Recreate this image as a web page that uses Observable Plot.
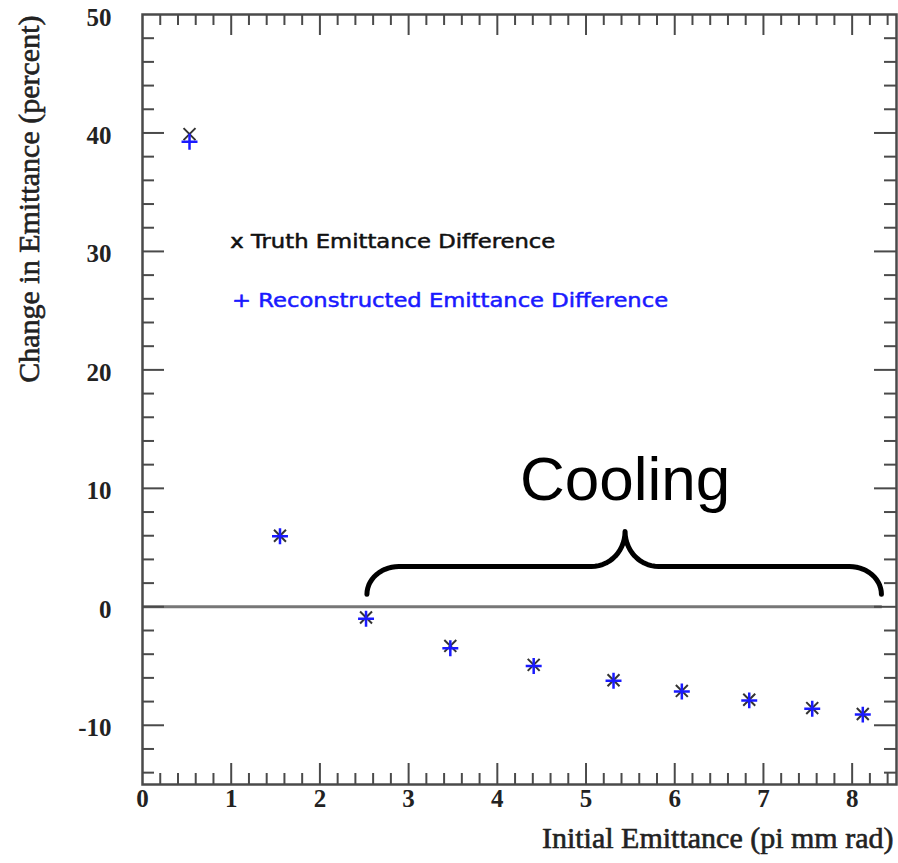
<!DOCTYPE html>
<html><head><meta charset="utf-8">
<script src="https://cdn.jsdelivr.net/npm/d3@7"></script>
<script src="https://cdn.jsdelivr.net/npm/@observablehq/plot@0.6"></script>
<style>body{margin:0;background:#fff}#chart svg{display:block}</style>
</head><body><div id="chart"></div>
<script>
// ---- data ----
const emittance = [0.53, 1.55, 2.52, 3.47, 4.41, 5.31, 6.08, 6.84, 7.55, 8.12];
const truthDiff = [39.9, 6.0, -0.9, -3.3, -4.9, -6.2, -7.1, -7.85, -8.55, -9.05];
const recoDiff  = [39.25, 5.95, -1.0, -3.5, -5.0, -6.25, -7.15, -7.9, -8.6, -9.1];
const xTickLabels = [0, 1, 2, 3, 4, 5, 6, 7, 8];
const yTickLabels = [-10, 0, 10, 20, 30, 40, 50];
const legendLabels = ["x Truth Emittance Difference", "+ Reconstructed Emittance Difference"];
const annotationLabel = ["Cooling"];
const xTitle = "Initial Emittance (pi mm rad)";
const yTitle = "Change in Emittance (percent)";

// ---- derived tables ----
const points = emittance.map((x, i) => ({x, truth: truthDiff[i], reco: recoDiff[i]}));
const xMinor = d3.range(0, 43).map(i => i / 5).filter(v => v % 1 !== 0);
const yMinor = d3.range(-14, 50, 2).filter(v => v % 10 !== 0);
const yMajorTicks = yTickLabels.filter(v => v < 50);
const xMajorTicks = xTickLabels.filter(v => v > 0);

// brace (annotation) spanning the cooling region, in data units
const br = {xL: 2.53, xR: 8.33, xM: 5.44, yEnd: 1.05, yBar: 3.4, yTip: 6.36, rx: 0.36, w: 0.38};
const N = 14;
const brace = [];
for (let i = 0; i <= N; i++) { const t = i / N * Math.PI / 2;
  brace.push({x: br.xL + br.rx - br.rx * Math.cos(t), y: br.yEnd + (br.yBar - br.yEnd) * Math.sin(t)}); }
for (let i = 0; i <= N; i++) { const t = i / N * Math.PI / 2;
  brace.push({x: br.xM - br.w + br.w * Math.sin(t), y: br.yTip - (br.yTip - br.yBar) * Math.cos(t)}); }
for (let i = N; i >= 0; i--) { const t = i / N * Math.PI / 2;
  brace.push({x: br.xM + br.w - br.w * Math.sin(t), y: br.yTip - (br.yTip - br.yBar) * Math.cos(t)}); }
for (let i = N; i >= 0; i--) { const t = i / N * Math.PI / 2;
  brace.push({x: br.xR - br.rx + br.rx * Math.cos(t), y: br.yEnd + (br.yBar - br.yEnd) * Math.sin(t)}); }

const W = 898, H = 863, mL = 142, mR = 2, mT = 14, mB = 79;
const iw = W - mL - mR, ih = H - mT - mB;
const axisColor = "#4a4a4a";
const serif = "'Liberation Serif', 'Times New Roman', serif";

const chart = Plot.plot({
  width: W, height: H,
  marginLeft: mL, marginRight: mR, marginTop: mT, marginBottom: mB,
  x: {domain: [0, 8.5], axis: null},
  y: {domain: [-15, 50], axis: null},
  style: {background: "#fff", fontFamily: serif},
  marks: [
    // zero line
    Plot.ruleY([{y: 0, a: 0, b: 8.34}], {y: "y", x1: "a", x2: "b", stroke: "#777", strokeWidth: 3}),
    // inner ticks: bottom / top
    Plot.tickX(xMajorTicks, {x: d => d, insetTop: ih - 21, stroke: axisColor, strokeWidth: 2}),
    Plot.tickX(xMinor, {x: d => d, insetTop: ih - 11, stroke: axisColor, strokeWidth: 2}),
    Plot.tickX(xMajorTicks, {x: d => d, insetBottom: ih - 21, stroke: axisColor, strokeWidth: 2}),
    Plot.tickX(xMinor, {x: d => d, insetBottom: ih - 11, stroke: axisColor, strokeWidth: 2}),
    // inner ticks: left / right
    Plot.tickY(yMajorTicks, {y: d => d, insetRight: iw - 22, stroke: axisColor, strokeWidth: 2}),
    Plot.tickY(yMinor, {y: d => d, insetRight: iw - 12, stroke: axisColor, strokeWidth: 2}),
    Plot.tickY(yMajorTicks, {y: d => d, insetLeft: iw - 22, stroke: axisColor, strokeWidth: 2}),
    Plot.tickY(yMinor, {y: d => d, insetLeft: iw - 12, stroke: axisColor, strokeWidth: 2}),
    Plot.frame({stroke: axisColor, strokeWidth: 2.5}),
    // tick labels
    Plot.text(xTickLabels, {x: d => d, frameAnchor: "bottom", dy: 22, text: d => String(d),
      fontSize: 25, fontWeight: "bold", fill: "#222", fontFamily: serif}),
    Plot.text(yTickLabels, {y: d => d, frameAnchor: "left", dx: -31, dy: 3, textAnchor: "end", text: d => String(d),
      fontSize: 25, fontWeight: "bold", fill: "#222", fontFamily: serif}),
    // axis titles
    Plot.text([xTitle], {frameAnchor: "bottom-right", dx: -3, dy: 63, textAnchor: "end",
      fontSize: 30, fill: "#222", stroke: "#222", strokeWidth: 0.6, fontFamily: serif}),
    Plot.text([yTitle], {frameAnchor: "top-left", dx: -125, dy: 1, rotate: -90, textAnchor: "end",
      fontSize: 30, fill: "#222", stroke: "#222", strokeWidth: 0.6, fontFamily: serif}),
    // data
    Plot.dot(points, {x: "x", y: "truth", symbol: "times", r: 5.5, stroke: "#333", strokeWidth: 2}),
    Plot.dot(points, {x: "x", y: "reco", symbol: "plus", r: 5.2, stroke: "#1a1aff", strokeWidth: 2.5}),
    // legend texts
    Plot.text([legendLabels[0]], {x: 0.99, y: 30.8, textAnchor: "start", fontSize: 19,
      fontFamily: "'DejaVu Sans', sans-serif", fill: "#111", stroke: "#111", strokeWidth: 0.5}),
    Plot.text([legendLabels[1]], {x: 1.01, y: 25.8, textAnchor: "start", fontSize: 19,
      fontFamily: "'DejaVu Sans', sans-serif", fill: "#1a1aff", stroke: "#1a1aff", strokeWidth: 0.5}),
    // annotation
    Plot.line(brace, {x: "x", y: "y", stroke: "#000", strokeWidth: 5, strokeLinecap: "round", strokeLinejoin: "round"}),
    Plot.text(annotationLabel, {x: 5.44, y: 10.7, fontSize: 62, fontFamily: "'Liberation Sans', Arial, sans-serif", fill: "#000"})
  ]
});
document.getElementById("chart").appendChild(chart);

// fit legend text widths to the reference
const fits = {};
fits[legendLabels[0]] = 325;
fits[legendLabels[1]] = 436;
d3.select(chart).selectAll("text").each(function () {
  const t = this.textContent;
  if (fits[t]) d3.select(this).attr("textLength", fits[t]).attr("lengthAdjust", "spacingAndGlyphs");
});
</script>
</body></html>
